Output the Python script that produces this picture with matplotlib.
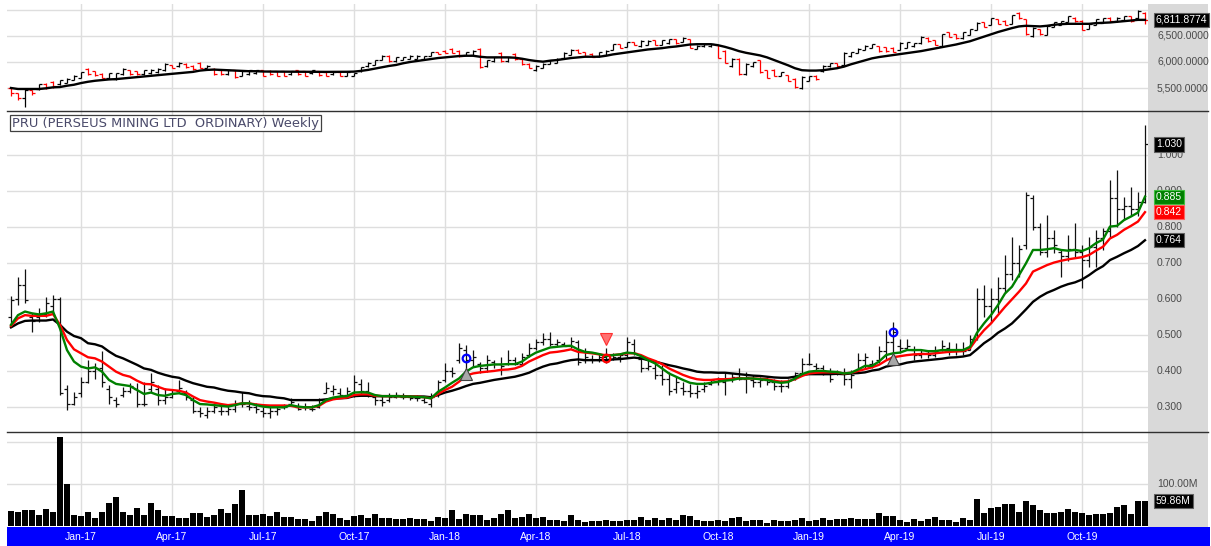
import numpy as np
import pandas as pd
import matplotlib
matplotlib.use('Agg')
import matplotlib.pyplot as plt
from matplotlib.collections import LineCollection
from matplotlib.patches import Rectangle
from matplotlib.lines import Line2D
import matplotlib.transforms as mtransforms

# ---- data (weekly bars) ----
dates = pd.date_range('2016-10-28', periods=163, freq='7D')

pru_high = [0.609, 0.663, 0.683, 0.561, 0.575, 0.607, 0.612, 0.607, 0.362, 0.343,
            0.385, 0.431, 0.422, 0.455, 0.362, 0.330, 0.357, 0.367, 0.367, 0.371,
            0.394, 0.362, 0.353, 0.348, 0.376, 0.348, 0.330, 0.302, 0.302, 0.311,
            0.311, 0.306, 0.320, 0.343, 0.320, 0.311, 0.302, 0.302, 0.302, 0.309,
            0.325, 0.311, 0.311, 0.306, 0.325, 0.371, 0.362, 0.353, 0.357, 0.390,
            0.380, 0.371, 0.334, 0.334, 0.339, 0.343, 0.340, 0.334, 0.334, 0.329,
            0.339, 0.376, 0.422, 0.413, 0.478, 0.473, 0.459, 0.427, 0.445, 0.431,
            0.441, 0.459, 0.441, 0.450, 0.478, 0.489, 0.507, 0.510, 0.491, 0.482,
            0.496, 0.487, 0.464, 0.445, 0.450, 0.464, 0.450, 0.450, 0.496, 0.491,
            0.441, 0.431, 0.422, 0.417, 0.399, 0.385, 0.371, 0.366, 0.362, 0.371,
            0.380, 0.385, 0.394, 0.394, 0.408, 0.399, 0.390, 0.385, 0.385, 0.380,
            0.376, 0.380, 0.399, 0.436, 0.450, 0.422, 0.417, 0.408, 0.404, 0.408,
            0.404, 0.450, 0.452, 0.431, 0.469, 0.515, 0.538, 0.491, 0.491, 0.469,
            0.459, 0.459, 0.469, 0.487, 0.482, 0.478, 0.482, 0.500, 0.630, 0.640,
            0.630, 0.663, 0.723, 0.774, 0.751, 0.899, 0.890, 0.811, 0.834, 0.792,
            0.741, 0.779, 0.811, 0.751, 0.774, 0.792, 0.797, 0.931, 0.959, 0.885,
            0.913, 0.899, 1.084]
pru_low = [0.529, 0.584, 0.589, 0.510, 0.538, 0.552, 0.561, 0.334, 0.293, 0.306,
           0.330, 0.367, 0.380, 0.357, 0.309, 0.302, 0.330, 0.339, 0.302, 0.304,
           0.343, 0.306, 0.309, 0.325, 0.339, 0.320, 0.283, 0.274, 0.269, 0.283,
           0.279, 0.279, 0.288, 0.302, 0.293, 0.283, 0.274, 0.269, 0.279, 0.294,
           0.306, 0.292, 0.292, 0.290, 0.297, 0.339, 0.334, 0.329, 0.325, 0.329,
           0.334, 0.329, 0.306, 0.303, 0.316, 0.325, 0.322, 0.320, 0.318, 0.311,
           0.302, 0.329, 0.371, 0.385, 0.422, 0.394, 0.413, 0.394, 0.399, 0.408,
           0.390, 0.418, 0.418, 0.418, 0.441, 0.459, 0.473, 0.469, 0.469, 0.469,
           0.464, 0.418, 0.422, 0.422, 0.427, 0.422, 0.431, 0.427, 0.441, 0.445,
           0.399, 0.404, 0.380, 0.362, 0.334, 0.339, 0.334, 0.329, 0.325, 0.343,
           0.362, 0.362, 0.334, 0.371, 0.376, 0.339, 0.357, 0.357, 0.362, 0.348,
           0.343, 0.353, 0.376, 0.390, 0.418, 0.404, 0.390, 0.371, 0.390, 0.362,
           0.353, 0.399, 0.408, 0.408, 0.422, 0.431, 0.450, 0.450, 0.459, 0.431,
           0.436, 0.436, 0.441, 0.455, 0.445, 0.445, 0.445, 0.459, 0.487, 0.552,
           0.533, 0.561, 0.617, 0.654, 0.663, 0.741, 0.792, 0.723, 0.718, 0.728,
           0.663, 0.705, 0.718, 0.630, 0.690, 0.690, 0.737, 0.774, 0.802, 0.820,
           0.830, 0.830, 0.867]
pru_open = [0.550, 0.600, 0.640, 0.550, 0.550, 0.560, 0.580, 0.600, 0.350, 0.310,
            0.340, 0.370, 0.400, 0.410, 0.350, 0.320, 0.335, 0.345, 0.350, 0.310,
            0.350, 0.350, 0.320, 0.330, 0.345, 0.340, 0.320, 0.290, 0.280, 0.290,
            0.290, 0.290, 0.295, 0.310, 0.305, 0.300, 0.290, 0.285, 0.290, 0.300,
            0.310, 0.300, 0.300, 0.295, 0.300, 0.340, 0.345, 0.340, 0.335, 0.340,
            0.365, 0.345, 0.330, 0.320, 0.320, 0.330, 0.330, 0.330, 0.325, 0.320,
            0.310, 0.335, 0.375, 0.400, 0.430, 0.460, 0.430, 0.420, 0.410, 0.425,
            0.420, 0.420, 0.430, 0.420, 0.445, 0.465, 0.480, 0.490, 0.475, 0.475,
            0.470, 0.480, 0.430, 0.435, 0.430, 0.440, 0.435, 0.440, 0.445, 0.475,
            0.435, 0.410, 0.410, 0.390, 0.380, 0.350, 0.355, 0.345, 0.340, 0.350,
            0.365, 0.370, 0.370, 0.380, 0.385, 0.380, 0.375, 0.370, 0.375, 0.370,
            0.360, 0.360, 0.380, 0.395, 0.420, 0.415, 0.410, 0.400, 0.395, 0.395,
            0.380, 0.400, 0.430, 0.420, 0.430, 0.455, 0.480, 0.470, 0.465, 0.460,
            0.445, 0.450, 0.445, 0.460, 0.465, 0.455, 0.460, 0.460, 0.490, 0.600,
            0.580, 0.600, 0.630, 0.670, 0.700, 0.750, 0.880, 0.800, 0.730, 0.770,
            0.730, 0.720, 0.740, 0.730, 0.710, 0.745, 0.770, 0.790, 0.880, 0.850,
            0.860, 0.850, 0.870]
pru_close = [0.598, 0.640, 0.598, 0.540, 0.560, 0.590, 0.600, 0.340, 0.310, 0.330,
             0.370, 0.400, 0.410, 0.370, 0.330, 0.310, 0.345, 0.360, 0.310, 0.310,
             0.370, 0.320, 0.330, 0.340, 0.355, 0.330, 0.290, 0.285, 0.290, 0.300,
             0.290, 0.295, 0.310, 0.310, 0.300, 0.295, 0.285, 0.290, 0.295, 0.300,
             0.315, 0.295, 0.300, 0.295, 0.320, 0.355, 0.350, 0.335, 0.345, 0.370,
             0.345, 0.335, 0.320, 0.315, 0.330, 0.335, 0.330, 0.325, 0.325, 0.315,
             0.330, 0.370, 0.400, 0.395, 0.465, 0.430, 0.440, 0.410, 0.430, 0.420,
             0.415, 0.430, 0.420, 0.440, 0.465, 0.480, 0.490, 0.475, 0.480, 0.470,
             0.485, 0.425, 0.440, 0.430, 0.440, 0.430, 0.440, 0.445, 0.480, 0.450,
             0.410, 0.415, 0.390, 0.380, 0.345, 0.370, 0.345, 0.340, 0.345, 0.360,
             0.375, 0.375, 0.380, 0.385, 0.380, 0.385, 0.370, 0.375, 0.370, 0.360,
             0.360, 0.375, 0.395, 0.420, 0.420, 0.410, 0.400, 0.380, 0.395, 0.380,
             0.390, 0.430, 0.440, 0.420, 0.455, 0.480, 0.510, 0.465, 0.470, 0.445,
             0.450, 0.445, 0.455, 0.470, 0.455, 0.460, 0.455, 0.490, 0.600, 0.580,
             0.600, 0.630, 0.670, 0.700, 0.740, 0.890, 0.800, 0.730, 0.770, 0.750,
             0.720, 0.740, 0.730, 0.710, 0.745, 0.770, 0.790, 0.880, 0.850, 0.860,
             0.850, 0.870, 1.030]

ema_fast = [0.529, 0.556, 0.566, 0.561, 0.558, 0.561, 0.566, 0.519, 0.459, 0.427,
            0.413, 0.408, 0.411, 0.399, 0.376, 0.365, 0.362, 0.359, 0.348, 0.337,
            0.341, 0.334, 0.332, 0.337, 0.339, 0.334, 0.320, 0.309, 0.308, 0.306,
            0.304, 0.302, 0.306, 0.311, 0.311, 0.306, 0.302, 0.300, 0.300, 0.300,
            0.306, 0.302, 0.300, 0.300, 0.306, 0.320, 0.327, 0.330, 0.331, 0.341,
            0.342, 0.341, 0.334, 0.331, 0.331, 0.331, 0.330, 0.330, 0.329, 0.328,
            0.325, 0.343, 0.355, 0.368, 0.380, 0.399, 0.411, 0.415, 0.417, 0.419,
            0.419, 0.420, 0.420, 0.427, 0.441, 0.452, 0.459, 0.466, 0.468, 0.470,
            0.471, 0.461, 0.454, 0.452, 0.448, 0.442, 0.445, 0.447, 0.452, 0.450,
            0.442, 0.431, 0.422, 0.408, 0.394, 0.385, 0.376, 0.368, 0.365, 0.365,
            0.368, 0.371, 0.374, 0.376, 0.380, 0.380, 0.380, 0.378, 0.376, 0.371,
            0.368, 0.370, 0.380, 0.392, 0.399, 0.401, 0.401, 0.399, 0.398, 0.394,
            0.396, 0.405, 0.415, 0.415, 0.427, 0.445, 0.450, 0.452, 0.459, 0.459,
            0.459, 0.456, 0.456, 0.459, 0.459, 0.459, 0.459, 0.468, 0.507, 0.533,
            0.556, 0.584, 0.616, 0.635, 0.667, 0.700, 0.737, 0.737, 0.739, 0.742,
            0.737, 0.735, 0.737, 0.734, 0.742, 0.756, 0.766, 0.802, 0.804, 0.820,
            0.830, 0.841, 0.885]
ema_mid = [0.526, 0.547, 0.556, 0.554, 0.554, 0.554, 0.559, 0.529, 0.487, 0.461,
           0.450, 0.439, 0.436, 0.427, 0.413, 0.399, 0.390, 0.385, 0.374, 0.365,
           0.364, 0.357, 0.350, 0.348, 0.346, 0.341, 0.330, 0.320, 0.316, 0.313,
           0.309, 0.306, 0.308, 0.311, 0.311, 0.308, 0.306, 0.305, 0.305, 0.305,
           0.304, 0.300, 0.300, 0.300, 0.304, 0.316, 0.322, 0.325, 0.327, 0.334,
           0.336, 0.336, 0.332, 0.331, 0.331, 0.331, 0.330, 0.330, 0.330, 0.328,
           0.325, 0.337, 0.348, 0.357, 0.371, 0.388, 0.394, 0.397, 0.399, 0.401,
           0.404, 0.405, 0.408, 0.415, 0.427, 0.436, 0.445, 0.452, 0.454, 0.457,
           0.461, 0.454, 0.452, 0.450, 0.447, 0.445, 0.445, 0.447, 0.450, 0.450,
           0.445, 0.436, 0.429, 0.420, 0.408, 0.399, 0.390, 0.383, 0.378, 0.376,
           0.376, 0.378, 0.378, 0.379, 0.381, 0.380, 0.380, 0.379, 0.378, 0.374,
           0.371, 0.372, 0.378, 0.387, 0.394, 0.396, 0.397, 0.397, 0.397, 0.394,
           0.396, 0.401, 0.406, 0.411, 0.418, 0.430, 0.439, 0.442, 0.445, 0.447,
           0.448, 0.448, 0.450, 0.452, 0.454, 0.455, 0.456, 0.464, 0.491, 0.514,
           0.533, 0.556, 0.579, 0.600, 0.621, 0.644, 0.677, 0.686, 0.695, 0.702,
           0.707, 0.711, 0.714, 0.717, 0.723, 0.735, 0.746, 0.769, 0.779, 0.793,
           0.804, 0.816, 0.842]
ema_slow = [0.522, 0.533, 0.540, 0.541, 0.541, 0.541, 0.544, 0.529, 0.510, 0.498,
            0.492, 0.478, 0.475, 0.469, 0.455, 0.443, 0.436, 0.427, 0.418, 0.408,
            0.404, 0.396, 0.390, 0.385, 0.382, 0.374, 0.367, 0.362, 0.357, 0.355,
            0.350, 0.346, 0.344, 0.341, 0.339, 0.334, 0.331, 0.330, 0.327, 0.325,
            0.320, 0.320, 0.320, 0.320, 0.320, 0.322, 0.325, 0.325, 0.326, 0.331,
            0.332, 0.332, 0.331, 0.331, 0.331, 0.331, 0.331, 0.330, 0.330, 0.330,
            0.328, 0.334, 0.341, 0.346, 0.352, 0.359, 0.365, 0.368, 0.372, 0.376,
            0.379, 0.382, 0.385, 0.390, 0.396, 0.405, 0.413, 0.419, 0.422, 0.427,
            0.431, 0.433, 0.431, 0.431, 0.431, 0.431, 0.433, 0.434, 0.436, 0.438,
            0.436, 0.431, 0.427, 0.422, 0.417, 0.413, 0.408, 0.404, 0.399, 0.397,
            0.397, 0.396, 0.396, 0.394, 0.392, 0.390, 0.388, 0.387, 0.385, 0.383,
            0.382, 0.382, 0.385, 0.390, 0.392, 0.392, 0.392, 0.392, 0.393, 0.392,
            0.394, 0.395, 0.397, 0.402, 0.405, 0.413, 0.417, 0.419, 0.424, 0.427,
            0.429, 0.431, 0.433, 0.435, 0.438, 0.439, 0.441, 0.445, 0.461, 0.478,
            0.491, 0.507, 0.519, 0.533, 0.552, 0.572, 0.593, 0.607, 0.618, 0.626,
            0.635, 0.642, 0.647, 0.655, 0.667, 0.681, 0.692, 0.709, 0.718, 0.728,
            0.737, 0.748, 0.764]

volume_m = [36, 33, 38, 38, 26, 40, 33, 211, 99, 26,
            24, 33, 18, 33, 54, 68, 33, 26, 42, 26,
            54, 38, 24, 24, 18, 18, 32, 32, 22, 26,
            40, 32, 52, 86, 25, 25, 28, 24, 33, 21,
            21, 16, 16, 13, 24, 33, 28, 18, 14, 24,
            25, 18, 28, 18, 18, 16, 16, 18, 16, 16,
            13, 21, 20, 38, 16, 28, 25, 26, 14, 20,
            29, 38, 20, 21, 29, 20, 21, 14, 14, 13,
            25, 14, 10, 13, 12, 14, 13, 12.7, 14.3, 14.3,
            20.6, 14.3, 18.3, 14.3, 18.3, 14.3, 25.4, 23.8, 14.3, 11.9,
            11.9, 14.3, 11.9, 18.3, 20.6, 11.9, 14.3, 14.3, 6.3, 14.3,
            11.9, 11.9, 14.3, 18.3, 11.9, 14.3, 18.3, 14.3, 15.9, 15.9,
            18.3, 15.9, 15.9, 15.9, 30.2, 23.8, 23.8, 14.3, 8.7, 15.9,
            11.9, 15.9, 20.6, 14.3, 14.3, 8.7, 18.3, 13.5, 63.5, 30.2,
            42.0, 44.4, 51.6, 51.6, 32.5, 58.7, 49.2, 38.1, 30.2, 30.2,
            32.5, 39.7, 32.5, 30.2, 25.4, 27.8, 27.8, 30.2, 44.4, 49.2,
            27.8, 60.3, 59.86]

idx_high = [5519, 5405, 5481, 5468, 5582, 5595, 5627, 5658, 5690, 5753,
            5817, 5880, 5835, 5785, 5798, 5798, 5880, 5848, 5829, 5848,
            5861, 5880, 5975, 5943, 6006, 5975, 5943, 6006, 5943, 5880,
            5848, 5848, 5848, 5848, 5848, 5848, 5848, 5848, 5835, 5835,
            5835, 5848, 5835, 5848, 5835, 5817, 5817, 5817, 5817, 5798,
            5911, 6006, 6038, 6133, 6133, 6101, 6101, 6133, 6133, 6114,
            6196, 6196, 6228, 6260, 6228, 6196, 6228, 6260, 6038, 6101,
            6196, 6101, 6165, 6070, 5975, 5943, 5975, 6038, 6070, 6196,
            6241, 6241, 6196, 6165, 6196, 6228, 6355, 6355, 6386, 6386,
            6418, 6418, 6431, 6431, 6450, 6450, 6481, 6450, 6323, 6355,
            6355, 6323, 6228, 6070, 6070, 5975, 6006, 6038, 5848, 5861,
            5817, 5753, 5690, 5722, 5734, 5753, 5943, 5987, 5987, 6196,
            6196, 6260, 6323, 6355, 6304, 6291, 6279, 6386, 6386, 6367,
            6494, 6481, 6431, 6544, 6576, 6544, 6576, 6639, 6766, 6766,
            6848, 6829, 6798, 6912, 6956, 6829, 6671, 6639, 6703, 6766,
            6785, 6893, 6861, 6798, 6734, 6829, 6848, 6861, 6861, 6893,
            6893, 7000, 6956]
idx_low = [5342, 5278, 5139, 5373, 5468, 5481, 5500, 5563, 5595, 5646,
           5690, 5753, 5734, 5690, 5671, 5658, 5753, 5753, 5753, 5753,
           5772, 5785, 5835, 5880, 5911, 5880, 5848, 5880, 5880, 5753,
           5753, 5753, 5690, 5722, 5753, 5772, 5722, 5753, 5722, 5722,
           5753, 5753, 5722, 5772, 5734, 5722, 5753, 5722, 5734, 5722,
           5817, 5911, 5943, 6038, 6006, 6006, 6038, 6051, 6051, 6051,
           6114, 6152, 6165, 6165, 6101, 6133, 6133, 5880, 5911, 6006,
           6006, 6006, 6038, 5943, 5880, 5835, 5880, 5962, 5975, 6070,
           6133, 6165, 6114, 6089, 6101, 6133, 6228, 6260, 6291, 6323,
           6291, 6323, 6323, 6323, 6355, 6355, 6386, 6260, 6241, 6291,
           6291, 6070, 5975, 5911, 5753, 5753, 5911, 5785, 5690, 5722,
           5722, 5627, 5500, 5481, 5627, 5658, 5817, 5911, 5911, 5943,
           6101, 6165, 6228, 6260, 6196, 6196, 6196, 6228, 6260, 6291,
           6355, 6386, 6323, 6291, 6481, 6450, 6450, 6513, 6608, 6671,
           6703, 6722, 6703, 6734, 6829, 6513, 6481, 6513, 6513, 6671,
           6703, 6766, 6766, 6608, 6639, 6703, 6747, 6766, 6766, 6798,
           6766, 6829, 6734]
idx_open = [5500, 5400, 5300, 5460, 5480, 5580, 5620, 5570, 5600, 5660,
            5700, 5860, 5820, 5770, 5690, 5680, 5770, 5840, 5820, 5760,
            5780, 5800, 5850, 5940, 5920, 5970, 5930, 5990, 5890, 5870,
            5840, 5760, 5840, 5730, 5760, 5780, 5840, 5830, 5820, 5820,
            5760, 5840, 5820, 5780, 5820, 5810, 5760, 5800, 5740, 5730,
            5820, 5920, 5950, 6040, 6120, 6020, 6040, 6060, 6060, 6060,
            6120, 6190, 6220, 6250, 6220, 6140, 6140, 6250, 5920, 6010,
            6180, 6020, 6150, 6060, 5960, 5850, 5890, 5970, 5980, 6080,
            6140, 6230, 6190, 6160, 6110, 6140, 6230, 6340, 6290, 6380,
            6300, 6330, 6420, 6330, 6360, 6440, 6390, 6440, 6250, 6300,
            6300, 6320, 6220, 5920, 6060, 5760, 5920, 6030, 5840, 5850,
            5730, 5750, 5680, 5500, 5640, 5740, 5820, 5920, 5980, 5950,
            6110, 6170, 6230, 6270, 6300, 6280, 6270, 6230, 6270, 6300,
            6360, 6470, 6420, 6300, 6570, 6540, 6460, 6520, 6620, 6760,
            6710, 6820, 6790, 6740, 6940, 6820, 6500, 6630, 6520, 6680,
            6710, 6770, 6850, 6790, 6640, 6710, 6750, 6850, 6780, 6800,
            6880, 6840, 6940]
idx_close = [5400, 5300, 5460, 5400, 5570, 5520, 5530, 5650, 5680, 5740,
             5800, 5770, 5750, 5700, 5780, 5790, 5860, 5770, 5760, 5840,
             5850, 5870, 5960, 5890, 5990, 5900, 5860, 5890, 5930, 5770,
             5760, 5840, 5710, 5830, 5840, 5840, 5740, 5770, 5740, 5740,
             5820, 5770, 5740, 5840, 5750, 5740, 5810, 5740, 5810, 5790,
             5900, 5990, 6030, 6120, 6020, 6090, 6090, 6120, 6120, 6110,
             6190, 6160, 6170, 6170, 6110, 6190, 6220, 5900, 6030, 6090,
             6020, 6090, 6050, 5960, 5890, 5930, 5960, 6030, 6060, 6180,
             6230, 6170, 6120, 6100, 6190, 6220, 6340, 6270, 6380, 6330,
             6410, 6410, 6330, 6420, 6440, 6360, 6470, 6270, 6310, 6350,
             6350, 6080, 5990, 6060, 5760, 5960, 6000, 5800, 5700, 5730,
             5810, 5640, 5510, 5710, 5730, 5670, 5930, 5980, 5920, 6180,
             6190, 6250, 6310, 6340, 6210, 6210, 6200, 6370, 6380, 6360,
             6480, 6400, 6330, 6530, 6490, 6460, 6570, 6630, 6750, 6680,
             6840, 6730, 6710, 6900, 6840, 6530, 6660, 6530, 6690, 6760,
             6780, 6880, 6780, 6620, 6730, 6820, 6840, 6780, 6850, 6880,
             6780, 6980, 6812]
idx_avg = [5500, 5481, 5481, 5481, 5481, 5494, 5513, 5519, 5544, 5563,
           5595, 5620, 5639, 5652, 5665, 5671, 5684, 5696, 5709, 5722,
           5734, 5747, 5760, 5772, 5785, 5798, 5810, 5835, 5848, 5854,
           5848, 5842, 5835, 5829, 5823, 5823, 5817, 5815, 5815, 5814,
           5814, 5812, 5812, 5812, 5810, 5810, 5810, 5810, 5812, 5815,
           5829, 5848, 5873, 5899, 5924, 5943, 5975, 6000, 6019, 6038,
           6057, 6076, 6089, 6101, 6114, 6120, 6120, 6101, 6089, 6089,
           6089, 6089, 6082, 6063, 6038, 6019, 6006, 6025, 6038, 6057,
           6076, 6089, 6101, 6101, 6101, 6120, 6146, 6165, 6184, 6203,
           6222, 6241, 6253, 6266, 6285, 6298, 6317, 6336, 6342, 6342,
           6342, 6323, 6291, 6253, 6209, 6177, 6152, 6127, 6089, 6038,
           5987, 5937, 5880, 5842, 5835, 5835, 5842, 5861, 5880, 5911,
           5956, 5994, 6032, 6070, 6095, 6114, 6133, 6152, 6171, 6190,
           6209, 6234, 6260, 6285, 6310, 6336, 6367, 6399, 6443, 6488,
           6532, 6576, 6614, 6652, 6684, 6696, 6690, 6684, 6696, 6715,
           6728, 6734, 6734, 6734, 6734, 6747, 6753, 6760, 6772, 6785,
           6798, 6810, 6810]
idx_last = 6811.8774

# signal markers
up_sig_x, up_sig_y = [65, 126], [0.392, 0.433]
buy_x, buy_y = [65, 126], [0.436, 0.510]
sell_x, sell_y = [85], [0.489]
sell_dot_x, sell_dot_y = [85], [0.436]

price_ticks = [0.3, 0.4, 0.5, 0.6, 0.7, 0.8, 0.9, 1.0]
index_ticks = [5500, 6000, 6500]
vol_ticks = [100]

# ---- layout helpers (pixel coords of a 1211x546 canvas) ----
W, H = 1211, 546
fig = plt.figure(figsize=(W / 100, H / 100), dpi=100)
L, R = 7, 1148
LABEL_FONT = ['Liberation Sans', 'DejaVu Sans']


def panel(top, bottom):
    return fig.add_axes([L / W, 1 - bottom / H, (R - L) / W, (bottom - top) / H])


ax_idx = panel(4, 111)
ax_pru = panel(111, 432)
ax_vol = panel(432, 527)

# background strips
fig.add_artist(Rectangle((R / W, 1 - 527 / H), 60 / W, 523 / H, transform=fig.transFigure,
                         fc='#d9d9d9', ec='none', zorder=-1))
fig.add_artist(Rectangle((L / W, 0), (1210 - L) / W, 19 / H, transform=fig.transFigure,
                         fc='#0000ff', ec='none', zorder=-1))
for yy in (111, 432):
    fig.add_artist(Line2D([L / W, 1208 / W], [1 - yy / H] * 2, transform=fig.transFigure,
                          color='#303030', lw=1, zorder=5))

x = np.arange(len(dates))
months = dates.month
q_idx = [i for i in range(1, len(dates)) if months[i] != months[i - 1] and months[i] in (1, 4, 7, 10)]
q_lab = [dates[i].strftime('%b-%y') for i in q_idx]

for ax in (ax_idx, ax_pru, ax_vol):
    ax.set_xlim(-0.57, 162.43)
    ax.set_xticks(q_idx)
    ax.grid(True, color='#dedede', lw=1)
    ax.set_axisbelow(True)
    ax.tick_params(length=0, labelbottom=False, labelleft=False)
    for s in ax.spines.values():
        s.set_visible(False)

ax_idx.set_ylim(5058, 7115)
ax_idx.set_yticks([5500, 6000, 6500, 7000])
ax_pru.set_ylim(0.2314, 1.123)
ax_pru.set_yticks(price_ticks)
ax_vol.set_ylim(-2.4, 223.8)
ax_vol.set_yticks([100, 200])


def ohlc(ax, o, h, l, c, colors, tick=0.4, lw=0.9):
    segs, cols = [], []
    for i in range(len(o)):
        segs += [[(i, l[i]), (i, h[i])], [(i - tick, o[i]), (i, o[i])], [(i, c[i]), (i + tick, c[i])]]
        cols += [colors[i]] * 3
    ax.add_collection(LineCollection(segs, colors=cols, linewidths=lw, zorder=3))


# top: index bars + average
idx_cols = ['#ff0000' if c < o else '#000000' for o, c in zip(idx_open, idx_close)]
ohlc(ax_idx, idx_open, idx_high, idx_low, idx_close, idx_cols)
ax_idx.plot(x, idx_avg, color='black', lw=1.7, zorder=4)

# main: price bars + averages + signals
ohlc(ax_pru, pru_open, pru_high, pru_low, pru_close, ['#111111'] * len(x))
ax_pru.plot(x, ema_slow, color='black', lw=1.7, zorder=4)
ax_pru.plot(x, ema_mid, color='#ff0000', lw=1.7, zorder=5)
ax_pru.plot(x, ema_fast, color='#008000', lw=1.7, zorder=6)
ax_pru.plot(up_sig_x, up_sig_y, ls='none', marker='^', ms=8.5, mfc='#a8a8a8', mec='#404040', mew=0.8, zorder=7)
ax_pru.plot(buy_x, buy_y, ls='none', marker='o', ms=5.5, mfc='none', mec='#0000ff', mew=1.6, zorder=7)
ax_pru.plot(sell_x, sell_y, ls='none', marker='v', ms=9, mfc='#ff7070', mec='#ff3030', mew=0.8, zorder=7)
ax_pru.plot(sell_dot_x, sell_dot_y, ls='none', marker='o', ms=5.5, mfc='none', mec='#ff0000', mew=1.6, zorder=7)
ax_pru.text(0.0044, 0.9626, 'PRU (PERSEUS MINING LTD  ORDINARY) Weekly', transform=ax_pru.transAxes,
            fontsize=9.4, color='#4a4a6a', va='center', ha='left', zorder=10,
            bbox=dict(boxstyle='square,pad=0.12', fc='white', ec='#404040', lw=0.9))

# volume
ax_vol.bar(x, volume_m, width=0.72, color='black', zorder=3)

# right-hand labels
lab_kw = dict(fontsize=7.5, family=LABEL_FONT, color='#4a4a4a', va='center', ha='left', clip_on=False)


def right_labels(ax, ticks, fmt):
    tr = mtransforms.blended_transform_factory(ax.transAxes, ax.transData)
    for v in ticks:
        ax.text(1.0079, v, fmt(v), transform=tr, zorder=2, **lab_kw)


def value_box(ax, v, text, fc, ec):
    tr = mtransforms.blended_transform_factory(ax.transAxes, ax.transData)
    ax.text(1.0069, v, text, transform=tr, fontsize=7.5, family=LABEL_FONT, color='white',
            va='center', ha='left', clip_on=False, zorder=12,
            bbox=dict(boxstyle='square,pad=0.2', fc=fc, ec=ec, lw=0.8))


right_labels(ax_idx, index_ticks, lambda v: f'{v:,.4f}')
right_labels(ax_pru, price_ticks, lambda v: f'{v:.3f}')
right_labels(ax_vol, vol_ticks, lambda v: f'{v:.2f}M')

value_box(ax_idx, idx_last, f'{idx_last:,.4f}', 'black', '#606060')
value_box(ax_pru, pru_close[-1], f'{pru_close[-1]:.3f}', 'black', '#606060')
value_box(ax_pru, ema_fast[-1], f'{ema_fast[-1]:.3f}', '#008000', '#40c040')
value_box(ax_pru, ema_mid[-1], f'{ema_mid[-1]:.3f}', '#ff0000', '#ff6060')
value_box(ax_pru, ema_slow[-1], f'{ema_slow[-1]:.3f}', 'black', '#606060')
value_box(ax_vol, volume_m[-1], f'{volume_m[-1]:.2f}M', 'black', '#606060')

# date labels in the blue strip
date_tr = mtransforms.blended_transform_factory(ax_vol.transData, fig.transFigure)
for i, lab in zip(q_idx, q_lab):
    ax_vol.text(i, 1 - 537 / H, lab, transform=date_tr, fontsize=7.5, family=LABEL_FONT,
                color='white', ha='center', va='center', clip_on=False)

fig.savefig('out.png', dpi=100)
